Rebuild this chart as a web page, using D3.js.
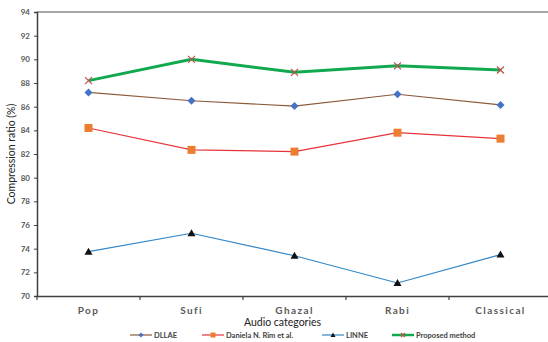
<!DOCTYPE html>
<html><head><meta charset="utf-8">
<script src="https://cdn.jsdelivr.net/npm/d3@7"></script>
<style>body{margin:0;background:#fff}svg{display:block}</style>
</head><body>
<script>
const categories = ["Pop","Sufi","Ghazal","Rabi","Classical"];
const dllae = [87.2, 86.5, 86.05, 87.05, 86.15];
const daniela = [84.2, 82.35, 82.2, 83.8, 83.3];
const linne = [73.75, 75.3, 73.4, 71.1, 73.5];
const proposed = [88.2, 90.0, 88.9, 89.45, 89.1];
const seriesNames = ["DLLAE","Daniela N. Rim et al.","LINNE","Proposed method"];
const yTicks = [70,72,74,76,78,80,82,84,86,88,90,92,94];

const W=548,H=342;
const m={l:37,t:12,r:-4,b:46};
const svg=d3.select("body").append("svg").attr("width",W).attr("height",H);
const x=d3.scaleBand().domain(categories).range([m.l, W-m.r]).padding(0);
const y=d3.scaleLinear().domain([70,94]).range([H-m.b, m.t]);
const font="Lato, 'Open Sans', sans-serif";

svg.append("line").attr("x1",m.l).attr("x2",W).attr("y1",y(94)).attr("y2",y(94))
  .attr("stroke","#8a8a8a").attr("stroke-width",1.3);

const ya=svg.append("g").attr("transform",`translate(${m.l},0)`)
  .call(d3.axisLeft(y).tickValues(yTicks).tickSize(3).tickPadding(4));
ya.select(".domain").attr("stroke","#404040").attr("stroke-width",1.5);
ya.selectAll(".tick line").attr("stroke","#404040");
ya.selectAll("text").attr("font-family",font).attr("font-size",8).attr("font-weight","bold").attr("fill","#595959");

const xa=svg.append("g").attr("transform",`translate(0,${H-m.b})`)
  .call(d3.axisBottom(x).tickSize(0).tickPadding(11));
xa.select(".domain").attr("stroke","#404040").attr("stroke-width",1.5);
xa.selectAll("text").attr("font-family",font).attr("font-size",10).attr("font-weight","bold")
  .attr("fill","#595959").attr("letter-spacing","1.4px");
const bounds=categories.map(c=>x(c)).concat([x(categories[categories.length-1])+x.bandwidth()]);
xa.selectAll(".bt").data(bounds).enter().append("line").attr("class","bt")
  .attr("x1",d=>d).attr("x2",d=>d).attr("y1",0).attr("y2",4).attr("stroke","#404040").attr("stroke-width",1.2);

svg.append("text").attr("x",(m.l+W)/2-10).attr("y",326).attr("text-anchor","middle")
  .attr("font-family",font).attr("font-size",10.5).attr("fill","#222").text("Audio categories");
svg.append("text").attr("transform",`translate(15,${(m.t+H-m.b)/2}) rotate(-90)`).attr("text-anchor","middle")
  .attr("font-family",font).attr("font-size",10.5).attr("fill","#222").text("Compression ratio (%)");

const cx=c=>x(c)+x.bandwidth()/2;
const series=[
  {name:seriesNames[0],vals:dllae,line:"#8c5a3a",lw:1.2,mk:"diamond",mc:"#4472c4"},
  {name:seriesNames[1],vals:daniela,line:"#e8323a",lw:1.2,mk:"square",mc:"#ed7d31"},
  {name:seriesNames[2],vals:linne,line:"#2f86c8",lw:1.2,mk:"triangle",mc:"#111"},
  {name:seriesNames[3],vals:proposed,line:"#12a84e",lw:3,mk:"x",mc:"#c0504d"}
];
const lineGen=d3.line().x(d=>cx(d.c)).y(d=>y(d.v));
function marker(g,type,color,px,py){
  if(type==="diamond") g.append("path").attr("d",`M${px},${py-4}L${px+4},${py}L${px},${py+4}L${px-4},${py}Z`).attr("fill",color);
  else if(type==="square") g.append("rect").attr("x",px-4).attr("y",py-4).attr("width",8).attr("height",8).attr("fill",color);
  else if(type==="triangle") g.append("path").attr("d",`M${px},${py-4}L${px+4},${py+3}L${px-4},${py+3}Z`).attr("fill",color);
  else g.append("path").attr("d",`M${px-3.5},${py-3.5}L${px+3.5},${py+3.5}M${px+3.5},${py-3.5}L${px-3.5},${py+3.5}`).attr("stroke",color).attr("stroke-width",1.2).attr("fill","none");
}
series.forEach(s=>{
  const pts=categories.map((c,i)=>({c,v:s.vals[i]}));
  svg.append("path").datum(pts).attr("d",lineGen).attr("fill","none").attr("stroke",s.line).attr("stroke-width",s.lw);
  const g=svg.append("g");
  pts.forEach(p=>marker(g,s.mk,s.mc,cx(p.c),y(p.v)));
});

const lx=[130,202,322,392];
series.forEach((s,i)=>{
  const g=svg.append("g").attr("transform",`translate(${lx[i]},335)`);
  g.append("line").attr("x1",0).attr("x2",22).attr("y1",0).attr("y2",0).attr("stroke",s.line).attr("stroke-width",s.lw===3?2.5:1.2);
  const mg=g.append("g");
  if(s.mk==="diamond") mg.append("path").attr("d","M11,-2.5L13.5,0L11,2.5L8.5,0Z").attr("fill",s.mc);
  else if(s.mk==="square") mg.append("rect").attr("x",8.5).attr("y",-2.5).attr("width",5).attr("height",5).attr("fill",s.mc);
  else if(s.mk==="triangle") mg.append("path").attr("d","M11,-2.5L13.5,2L8.5,2Z").attr("fill",s.mc);
  else mg.append("path").attr("d","M9,-2L13,2M13,-2L9,2").attr("stroke",s.mc).attr("stroke-width",1.2);
  g.append("text").attr("x",24).attr("y",2.5).attr("font-family",font).attr("font-size",7.5).attr("font-weight","bold")
   .attr("fill","#404040").text(s.name);
});
</script>
</body></html>
